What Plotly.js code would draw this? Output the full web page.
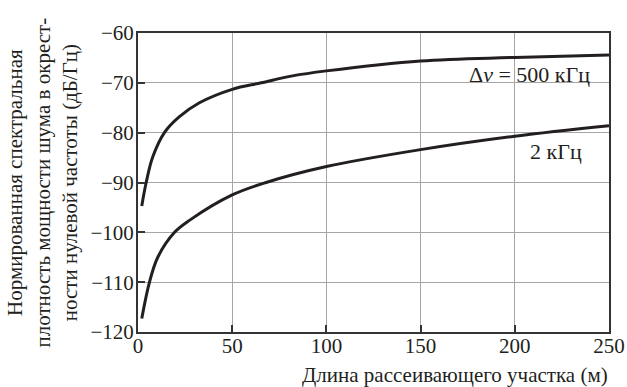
<!DOCTYPE html>
<html>
<head>
<meta charset="utf-8">
<script src="https://cdn.plot.ly/plotly-3.0.1.min.js"></script>
<style>
  html, body { margin: 0; padding: 0; background: #fff; }
  #chart { width: 627px; height: 387px; }
</style>
</head>
<body>
<div id="chart"></div>
<script>
// Data
const lengthWide = [2, 4.4, 7.9, 14.2, 22, 32.6, 50, 65.4, 82, 100, 150, 200, 250];
const psdWide = [-94.7, -89.9, -84.8, -79.9, -76.8, -74.0, -71.3, -70, -68.6, -67.6, -65.6, -64.9, -64.4];

const lengthNarrow = [2, 6.1, 10.5, 19.4, 27.3, 50, 68, 100, 150, 200, 250];
const psdNarrow = [-117.3, -110, -105, -100, -97.6, -92.5, -90, -86.8, -83.4, -80.7, -78.6];

const labelWide = 'Δ<i>ν</i> = 500 кГц';
const labelNarrow = '2 кГц';
const xTitle = 'Длина рассеивающего участка (м)';
const yTitle = 'Нормированная спектральная<br>плотность мощности шума в окрест-<br>ности нулевой частоты (дБ/Гц)';

const FONT = '"Liberation Serif", "DejaVu Serif", serif';
const INK = '#231f20';

const traces = [
  { x: lengthWide, y: psdWide, mode: 'lines', line: { color: INK, width: 3, shape: 'spline', smoothing: 1 }, hoverinfo: 'skip' },
  { x: lengthNarrow, y: psdNarrow, mode: 'lines', line: { color: INK, width: 3, shape: 'spline', smoothing: 1 }, hoverinfo: 'skip' }
];

const axisCommon = {
  showline: true, mirror: true, linecolor: '#333', linewidth: 2,
  ticks: 'inside', ticklen: 7, tickwidth: 2, tickcolor: '#333',
  showgrid: true, gridcolor: '#a6a6a6', gridwidth: 1,
  zeroline: false,
  tickfont: { family: FONT, size: 21, color: INK }
};

const layout = {
  width: 627, height: 387,
  margin: { l: 138, r: 18, t: 33, b: 55 },
  paper_bgcolor: '#fff', plot_bgcolor: '#fff',
  showlegend: false,
  font: { family: FONT, color: INK },
  xaxis: Object.assign({}, axisCommon, { range: [0, 250], dtick: 50, tick0: 0, ticklabelstandoff: -6 }),
  yaxis: Object.assign({}, axisCommon, { range: [-120, -60], dtick: 10, tick0: -120, ticklabelstandoff: -2 }),
  annotations: [
    { x: 208, y: -68.4, xref: 'x', yref: 'y', text: labelWide, showarrow: false,
      xanchor: 'center', yanchor: 'middle', font: { family: FONT, size: 22, color: INK } },
    { x: 222, y: -83.8, xref: 'x', yref: 'y', text: labelNarrow, showarrow: false,
      xanchor: 'center', yanchor: 'middle', font: { family: FONT, size: 22, color: INK } },
    { x: 1, y: -0.1438, xref: 'paper', yref: 'paper', text: xTitle, showarrow: false, borderpad: 0,
      xanchor: 'right', yanchor: 'middle', font: { family: FONT, size: 21, color: INK } },
    { x: -0.2017, y: 0.5, xref: 'paper', yref: 'paper', text: yTitle, showarrow: false,
      textangle: -90, xanchor: 'center', yanchor: 'middle', font: { family: FONT, size: 21, color: INK } }
  ]
};

Plotly.newPlot('chart', traces, layout, { staticPlot: true, displayModeBar: false });
</script>
</body>
</html>
